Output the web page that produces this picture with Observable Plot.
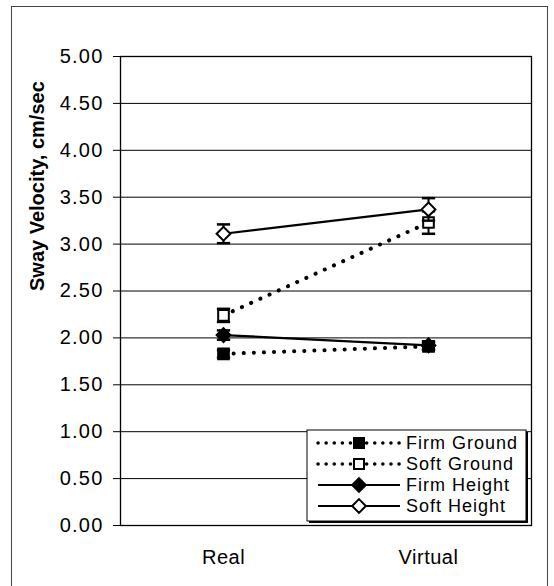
<!DOCTYPE html>
<html>
<head>
<meta charset="utf-8">
<script src="https://cdn.jsdelivr.net/npm/d3@7"></script>
<script src="https://cdn.jsdelivr.net/npm/@observablehq/plot@0.6"></script>
<style>
  html, body { margin: 0; padding: 0; background: #fff; }
  #wrap { position: relative; width: 554px; height: 586px; overflow: hidden; }
  #border { position: absolute; left: 11px; top: 6px; width: 537px; height: 590px; border: 1px solid #444; box-sizing: border-box; }
  #chart { position: absolute; left: 0; top: 0; }
  #chart g[aria-label="y-axis tick label"] text { letter-spacing: 1.2px; }
  #chart g[aria-label="x-axis tick label"] text { letter-spacing: 0.5px; }
  #chart g.legend text { letter-spacing: 1px; }
</style>
</head>
<body>
<div id="wrap"><div id="border"></div><div id="chart"></div></div>
<script>
const conditions = ["Real", "Virtual"];
const seriesNames = ["Firm Ground", "Soft Ground", "Firm Height", "Soft Height"];
const firmGround = [1.83, 1.91];
const firmGroundErr = [0.04, 0.04];
const softGround = [2.24, 3.23];
const softGroundErr = [0.07, 0.12];
const firmHeight = [2.03, 1.92];
const firmHeightErr = [0.05, 0.04];
const softHeight = [3.11, 3.37];
const softHeightErr = [0.10, 0.12];
const yTicks = [0, 0.5, 1, 1.5, 2, 2.5, 3, 3.5, 4, 4.5, 5];
const yLabel = "Sway Velocity, cm/sec";

const styles = {
  "Firm Ground": {dash: "0.1,10", symbol: "square", fill: "black"},
  "Soft Ground": {dash: "0.1,10", symbol: "square", fill: "white"},
  "Firm Height": {dash: null, symbol: "diamond2", fill: "black"},
  "Soft Height": {dash: null, symbol: "diamond2", fill: "white"}
};

const seriesValues = [firmGround, softGround, firmHeight, softHeight];
const seriesErrs = [firmGroundErr, softGroundErr, firmHeightErr, softHeightErr];
const data = [];
seriesNames.forEach((s, i) => {
  conditions.forEach((c, j) => {
    data.push({series: s, cond: c, v: seriesValues[i][j], e: seriesErrs[i][j]});
  });
});

const capSymbol = {
  draw(ctx, size) {
    const r = Math.sqrt(size) / 2;
    ctx.moveTo(-r, 0);
    ctx.lineTo(r, 0);
  }
};

const font = "'Liberation Sans', Arial, sans-serif";
const marks = [
  Plot.gridY(yTicks, {stroke: "black", strokeOpacity: 1, strokeWidth: 1}),
  Plot.frame({stroke: "black", strokeWidth: 1.3}),
  Plot.axisY(yTicks, {tickFormat: d => d.toFixed(2), tickSize: 7, tickPadding: 10, fontSize: 20, label: null, stroke: "black"}),
  Plot.axisX({tickSize: 0, tickPadding: 24, fontSize: 20, label: null}),
  Plot.text([yLabel], {frameAnchor: "left", dx: -83, rotate: -90, fontSize: 20, fontWeight: "bold", text: d => d})
];

seriesNames.forEach(s => {
  const st = styles[s];
  const rows = data.filter(d => d.series === s);
  marks.push(Plot.line(rows, {x: "cond", y: "v", stroke: "black",
    strokeDasharray: st.dash, strokeLinecap: st.dash ? "round" : "butt", strokeWidth: st.dash ? 4 : 2.2}));
});
seriesNames.forEach(s => {
  const st = styles[s];
  const rows = data.filter(d => d.series === s);
  marks.push(Plot.ruleX(rows, {x: "cond", y1: d => d.v - d.e, y2: d => d.v + d.e, stroke: "black", strokeWidth: 2}));
  marks.push(Plot.dot(rows, {x: "cond", y: d => d.v - d.e, symbol: capSymbol, r: 7.5, stroke: "black", strokeWidth: 2.5}));
  marks.push(Plot.dot(rows, {x: "cond", y: d => d.v + d.e, symbol: capSymbol, r: 7.5, stroke: "black", strokeWidth: 2.5}));
  marks.push(Plot.dot(rows, {x: "cond", y: "v", symbol: st.symbol, r: st.symbol === "square" ? 6 : 6.2,
    fill: st.fill, stroke: "black", strokeWidth: 2}));
});

const chart = Plot.plot({
  width: 554,
  height: 586,
  marginLeft: 120,
  marginRight: 23,
  marginTop: 56,
  marginBottom: 61,
  style: {fontFamily: font, color: "black", background: "transparent", overflow: "visible"},
  x: {type: "point", domain: conditions, padding: 0.5},
  y: {domain: [0, 5]},
  marks
});
document.getElementById("chart").appendChild(chart);

// Legend drawn inside the plot area (bottom right)
const svg = d3.select(chart);
const lg = svg.append("g").attr("class", "legend").attr("font-family", font).attr("font-size", 18).attr("text-anchor", "start");
const bx = 307, by = 430, bw = 219, bh = 91;
lg.append("rect").attr("x", bx + 2).attr("y", by + 2).attr("width", bw).attr("height", bh).attr("fill", "black");
lg.append("rect").attr("x", bx).attr("y", by).attr("width", bw).attr("height", bh).attr("fill", "white").attr("stroke", "black").attr("stroke-width", 1);
seriesNames.forEach((s, i) => {
  const st = styles[s];
  const y = by + 13 + i * 21;
  lg.append("line").attr("x1", bx + 11).attr("x2", bx + 93).attr("y1", y).attr("y2", y)
    .attr("stroke", "black").attr("stroke-width", st.dash ? 3.5 : 2.2)
    .attr("stroke-dasharray", st.dash ? "0.1,8" : null).attr("stroke-linecap", st.dash ? "round" : "butt");
  const sym = d3.symbol(st.symbol === "square" ? d3.symbolSquare : d3.symbolDiamond2, st.symbol === "square" ? 100 : 120);
  lg.append("path").attr("d", sym()).attr("transform", `translate(${bx + 52},${y})`)
    .attr("fill", st.fill).attr("stroke", "black").attr("stroke-width", 2);
  lg.append("text").attr("x", bx + 99).attr("y", y).attr("dy", "0.35em").text(s);
});
</script>
</body>
</html>
